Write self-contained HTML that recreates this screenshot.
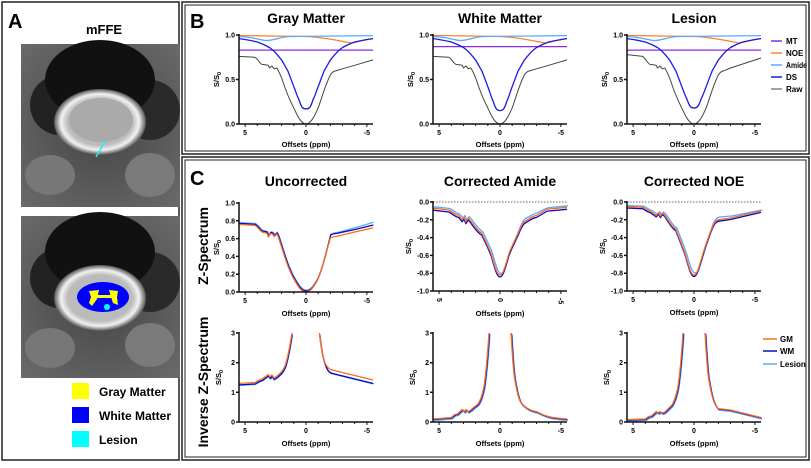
<!DOCTYPE html>
<html><head><meta charset="utf-8"><style>
body{margin:0;width:811px;height:463px;background:#fff;overflow:hidden}
</style></head><body>
<svg width="811" height="463" xmlns="http://www.w3.org/2000/svg" font-family="Liberation Sans, Arial, sans-serif">
<defs>
<radialGradient id="bg" cx="50%" cy="50%" r="70%"><stop offset="0" stop-color="#444"/><stop offset="1" stop-color="#6a6a6a"/></radialGradient>
<radialGradient id="ring" cx="50%" cy="50%" r="50%"><stop offset="0.7" stop-color="#bbb"/><stop offset="0.85" stop-color="#f2f2f2"/><stop offset="1" stop-color="#555"/></radialGradient>
</defs>
<rect x="2" y="2" width="177" height="458" fill="none" stroke="#222" stroke-width="1.5"/>
<rect x="182" y="2" width="627" height="152" fill="none" stroke="#222" stroke-width="1.5"/>
<rect x="185" y="5" width="621" height="146" fill="none" stroke="#222" stroke-width="1"/>
<rect x="182" y="157" width="627" height="303" fill="none" stroke="#222" stroke-width="1.5"/>
<rect x="185" y="160" width="621" height="297" fill="none" stroke="#222" stroke-width="1"/>
<text x="8" y="28" font-size="20" font-weight="bold">A</text>
<text x="190" y="28" font-size="20" font-weight="bold">B</text>
<text x="190" y="185" font-size="20" font-weight="bold">C</text>
<text x="104" y="34" font-size="13" font-weight="bold" text-anchor="middle">mFFE</text>
<g>
<rect x="21" y="44" width="159" height="163" fill="url(#bg)"/>
<ellipse cx="50" cy="175" rx="25" ry="20" fill="#777"/><ellipse cx="150" cy="175" rx="25" ry="22" fill="#7a7a7a"/>
<ellipse cx="60" cy="105" rx="30" ry="30" fill="#222"/><ellipse cx="150" cy="110" rx="30" ry="30" fill="#2a2a2a"/>
<ellipse cx="100" cy="80" rx="55" ry="40" fill="#111"/>
<ellipse cx="100" cy="122" rx="46" ry="33" fill="url(#ring)"/>
<ellipse cx="101" cy="120" rx="32" ry="22" fill="#aaa"/>
<line x1="96" y1="157" x2="106" y2="140" stroke="#2ee" stroke-width="1.5"/>
</g>
<g>
<rect x="21" y="216" width="159" height="162" fill="url(#bg)"/>
<ellipse cx="50" cy="348" rx="25" ry="20" fill="#777"/><ellipse cx="150" cy="345" rx="25" ry="22" fill="#7a7a7a"/>
<ellipse cx="60" cy="278" rx="30" ry="30" fill="#222"/><ellipse cx="150" cy="282" rx="30" ry="30" fill="#2a2a2a"/>
<ellipse cx="100" cy="252" rx="55" ry="40" fill="#111"/>
<ellipse cx="100" cy="298" rx="46" ry="33" fill="url(#ring)"/>
<ellipse cx="103" cy="297" rx="26" ry="15" fill="#00f"/>
<path d="M89,291 L99,290 L97,299 L92,306 L89,303 L91,297 Z M109,290 L118,291 L117,297 L118,305 L113,303 L111,297 Z M96,295 L112,295 L112,298 L96,298 Z" fill="#ff0"/>
<circle cx="107" cy="307" r="3" fill="#0ff"/>
</g>
<rect x="72" y="383" width="17" height="16" fill="#ff0"/><text x="99" y="396" font-size="12" font-weight="bold">Gray Matter</text>
<rect x="72" y="407" width="17" height="16" fill="#00f"/><text x="99" y="420" font-size="12" font-weight="bold">White Matter</text>
<rect x="72" y="431" width="17" height="16" fill="#0ff"/><text x="99" y="444" font-size="12" font-weight="bold">Lesion</text>
<text transform="translate(208,246) rotate(-90)" font-size="14" font-weight="bold" text-anchor="middle">Z-Spectrum</text>
<text transform="translate(208,382) rotate(-90)" font-size="14" font-weight="bold" text-anchor="middle">Inverse Z-Spectrum</text>

<g font-size="7" font-weight="bold" stroke-linejoin="round">
<!-- B1 -->
<g transform="translate(239,35)">
<text x="67" y="-12" font-size="14" text-anchor="middle">Gray Matter</text>
<line x1="0" y1="15.1" x2="134" y2="15.1" stroke="#8a2be2" stroke-width="1.3"/>
<path d="M0,0.5 L67,1.5 C85,2 100,6 112,8 C120,7 128,4 134,3.6" fill="none" stroke="#ff7f2a" stroke-width="1.3"/>
<path d="M0,1.5 C15,2 22,5.5 28,5.5 C34,5.5 42,2 50,1.5 L134,0.6" fill="none" stroke="#5aa9ff" stroke-width="1.3"/>
<path d="M0,3.6 C8,4.5 14,6 18.3,7 C24,9 27,10.5 30.5,12.5 C33,14.5 35,16 36.5,17.8 C39,20.5 41,23 42.6,25 C45,29 47,33 48.7,35.6 C51,41 53,47 54.8,51.6 C57,57 58,61 59.7,64 C61,68 62,71 63.3,72.5 C64.5,73.8 65.5,73.9 67,73.9 C68.5,73.9 69.5,73.8 70.7,72.5 C72,71 73,68 74.3,64 C76,61 77,57 79.2,51.6 C81,47 83,41 85.3,35.6 C87,33 89,29 91.4,25 C93,23 95,20.5 97.5,17.8 C99,16 101,14.5 103.5,12.5 C107,10.5 110,9 115.7,7 C120,6 126,4.5 134,3.6" fill="none" stroke="#1a1ae6" stroke-width="1.3"/>
<path d="M0,21.4 L15.8,22.3 C19,24 21,29 23.1,29.4 L29.2,30.3 L30.5,33 L32.9,31 L35.3,33.8 L37.8,33 C40,36 41,40 42.6,42.7 C45,50 48,60 54.8,73 C58,80 62,89 67,89 C72,89 76,80 79.2,73 C83,62 87,48 91.4,40 C93,37 95,36 97.4,35.6 L103.5,33.8 L115.7,30.3 L134,24.9" fill="none" stroke="#444" stroke-width="1"/>
<path d="M0,-1 V89 H134 M-3,0 H0 M-3,44.5 H0 M-3,89 H0" fill="none" stroke="#111" stroke-width="1.5"/>
<path d="M6.1,89v3M18.3,89v2M30.5,89v2M42.6,89v2M54.8,89v2M67,89v3M79.2,89v2M91.4,89v2M103.5,89v2M115.7,89v2M127.9,89v3" stroke="#111" stroke-width="1"/>
<text x="-4" y="2.5" text-anchor="end">1.0</text><text x="-4" y="47" text-anchor="end">0.5</text><text x="-4" y="91.5" text-anchor="end">0.0</text>
<text x="6.1" y="100" text-anchor="middle">5</text><text x="67" y="100" text-anchor="middle">0</text><text x="127.9" y="100" text-anchor="middle">-5</text>
<text x="67" y="112" text-anchor="middle" font-size="7.5">Offsets (ppm)</text>
<text transform="translate(-20,44.5) rotate(-90)" text-anchor="middle" font-size="7.5">S/S<tspan font-size="5.5" dy="2">0</tspan></text>
</g>
<!-- B2 -->
<g transform="translate(433,35)">
<text x="67" y="-12" font-size="14" text-anchor="middle">White Matter</text>
<line x1="0" y1="11.6" x2="134" y2="11.6" stroke="#8a2be2" stroke-width="1.3"/>
<path d="M0,0.5 L67,1.5 C85,2 100,6 112,8 C120,7 128,4 134,3.6" fill="none" stroke="#ff7f2a" stroke-width="1.3"/>
<path d="M0,1.5 C15,2 22,5.5 28,5.5 C34,5.5 42,2 50,1.5 L134,0.6" fill="none" stroke="#5aa9ff" stroke-width="1.3"/>
<path d="M0,3.6 C8,4.5 14,6 18.3,7 C24,9 27,10.5 30.5,12.5 C33,14.5 35,16 36.5,17.8 C39,20.5 41,23 42.6,25 C45,29 47,33 48.7,35.6 C51,41 53,47 54.8,51.6 C57,57 58,62 59.7,65 C61,69 62,72 63.3,73.8 C64.5,75.3 65.5,75.6 67,75.6 C68.5,75.6 69.5,75.3 70.7,73.8 C72,72 73,69 74.3,65 C76,62 77,57 79.2,51.6 C81,47 83,41 85.3,35.6 C87,33 89,29 91.4,25 C93,23 95,20.5 97.5,17.8 C99,16 101,14.5 103.5,12.5 C107,10.5 110,9 115.7,7 C120,6 126,4.5 134,3.6" fill="none" stroke="#1a1ae6" stroke-width="1.3"/>
<path d="M0,21.4 L15.8,22.3 C19,24 21,29 23.1,29.4 L29.2,30.3 L30.5,33 L32.9,31 L35.3,33.8 L37.8,33 C40,36 41,40 42.6,42.7 C45,50 48,60 54.8,73 C58,80 62,89 67,89 C72,89 76,80 79.2,73 C83,62 87,48 91.4,40 C93,37 95,36 97.4,35.6 L103.5,33.8 L115.7,30.3 L134,24.9" fill="none" stroke="#444" stroke-width="1"/>
<path d="M0,-1 V89 H134 M-3,0 H0 M-3,44.5 H0 M-3,89 H0" fill="none" stroke="#111" stroke-width="1.5"/>
<path d="M6.1,89v3M18.3,89v2M30.5,89v2M42.6,89v2M54.8,89v2M67,89v3M79.2,89v2M91.4,89v2M103.5,89v2M115.7,89v2M127.9,89v3" stroke="#111" stroke-width="1"/>
<text x="-4" y="2.5" text-anchor="end">1.0</text><text x="-4" y="47" text-anchor="end">0.5</text><text x="-4" y="91.5" text-anchor="end">0.0</text>
<text x="6.1" y="100" text-anchor="middle">5</text><text x="67" y="100" text-anchor="middle">0</text><text x="127.9" y="100" text-anchor="middle">-5</text>
<text x="67" y="112" text-anchor="middle" font-size="7.5">Offsets (ppm)</text>
<text transform="translate(-20,44.5) rotate(-90)" text-anchor="middle" font-size="7.5">S/S<tspan font-size="5.5" dy="2">0</tspan></text>
</g>
<!-- B3 -->
<g transform="translate(627,35)">
<text x="67" y="-12" font-size="14" text-anchor="middle">Lesion</text>
<line x1="0" y1="15.1" x2="134" y2="15.1" stroke="#8a2be2" stroke-width="1.3"/>
<path d="M0,0.5 L67,1.5 C85,2 100,6 112,8 C120,7 128,4 134,3.6" fill="none" stroke="#ff7f2a" stroke-width="1.3"/>
<path d="M0,1.5 C15,2 22,5.5 28,5.5 C34,5.5 42,2 50,1.5 L134,0.6" fill="none" stroke="#5aa9ff" stroke-width="1.3"/>
<path d="M0,3.6 C8,4.5 14,6 18.3,7 C24,9 27,10.5 30.5,12.5 C33,14.5 35,16 36.5,17.8 C39,20.5 41,23 42.6,25 C45,29 47,33 48.7,35.6 C51,41 53,47 54.8,51.6 C57,57 58,60.5 59.7,63.5 C61,67 62,70 63.3,71.5 C64.5,72.8 65.5,73 67,73 C68.5,73 69.5,72.8 70.7,71.5 C72,70 73,67 74.3,63.5 C76,60.5 77,57 79.2,51.6 C81,47 83,41 85.3,35.6 C87,33 89,29 91.4,25 C93,23 95,20.5 97.5,17.8 C99,16 101,14.5 103.5,12.5 C107,10.5 110,9 115.7,7 C120,6 126,4.5 134,3.6" fill="none" stroke="#1a1ae6" stroke-width="1.3"/>
<path d="M0,19.6 L15.8,21.4 C19,24 21,29 23.1,29.4 L29.2,30.3 L30.5,33 L32.9,31 L35.3,33.8 L37.8,33 C40,36 41,40 42.6,42.7 C45,50 48,60 54.8,73 C58,80 62,89 67,89 C72,89 76,80 79.2,73 C83,62 87,48 91.4,40 C93,37 95,36 97.4,35.6 L103.5,33 L115.7,29 L134,23" fill="none" stroke="#444" stroke-width="1"/>
<path d="M0,-1 V89 H134 M-3,0 H0 M-3,44.5 H0 M-3,89 H0" fill="none" stroke="#111" stroke-width="1.5"/>
<path d="M6.1,89v3M18.3,89v2M30.5,89v2M42.6,89v2M54.8,89v2M67,89v3M79.2,89v2M91.4,89v2M103.5,89v2M115.7,89v2M127.9,89v3" stroke="#111" stroke-width="1"/>
<text x="-4" y="2.5" text-anchor="end">1.0</text><text x="-4" y="47" text-anchor="end">0.5</text><text x="-4" y="91.5" text-anchor="end">0.0</text>
<text x="6.1" y="100" text-anchor="middle">5</text><text x="67" y="100" text-anchor="middle">0</text><text x="127.9" y="100" text-anchor="middle">-5</text>
<text x="67" y="112" text-anchor="middle" font-size="7.5">Offsets (ppm)</text>
<text transform="translate(-20,44.5) rotate(-90)" text-anchor="middle" font-size="7.5">S/S<tspan font-size="5.5" dy="2">0</tspan></text>
</g>

<!-- C Z -->
<g transform="translate(239,203)">
<text x="67" y="-17" font-size="14" text-anchor="middle">Uncorrected</text>
<g fill="none" stroke-width="1.3">
<path transform="translate(0.5,-1.8)" d="M0,21.4 L15.8,22.3 C19,24 21,28 23.1,29 L28,30.3 L29.5,34 L31.5,30.5 L33.5,31 L35.3,33.5 L37.8,31 C40,34 41,40 42.6,44 C46,55 50,68 56,78 C60,85 63,89 67,89 C71,89 74,85 78,78 C83,68 87,50 91.4,33 C93,32 95,31.6 97.4,31.4 L115.7,26.5 L134,21" stroke="#5aa9ff"/>
<path transform="translate(0.3,-1)" d="M0,21.4 L15.8,22.3 C19,24 21,28 23.1,29 L28,30.3 L29.5,34 L31.5,30.5 L33.5,31 L35.3,33.5 L37.8,31 C40,34 41,40 42.6,44 C46,55 50,68 56,78 C60,85 63,89 67,89 C71,89 74,85 78,78 C83,68 87,50 91.4,33 C93,32 95,31.6 97.4,31.4 L115.7,27.5 L134,23" stroke="#0a0ab8"/>
<path d="M0,21.4 L15.8,22.3 C19,24 21,28 23.1,29 L28,30.3 L29.5,34 L31.5,30.5 L33.5,31 L35.3,33.5 L37.8,31 C40,34 41,40 42.6,44 C46,55 50,68 56,78 C60,85 63,89 67,89 C71,89 74,85 78,78 C83,68 87,50 91.4,35 C93,34 95,33.6 97.4,33.4 L115.7,29 L134,24.9" stroke="#ff6a1a"/>
</g>
<path d="M0,-1 V89 H134 M-3,0 H0 M-3,17.8 H0 M-3,35.6 H0 M-3,53.4 H0 M-3,71.2 H0 M-3,89 H0" fill="none" stroke="#111" stroke-width="1.5"/>
<path d="M6.1,89v3M18.3,89v2M30.5,89v2M42.6,89v2M54.8,89v2M67,89v3M79.2,89v2M91.4,89v2M103.5,89v2M115.7,89v2M127.9,89v3" stroke="#111" stroke-width="1"/>
<text x="-4" y="2.5" text-anchor="end">1.0</text><text x="-4" y="20.3" text-anchor="end">0.8</text><text x="-4" y="38.1" text-anchor="end">0.6</text><text x="-4" y="55.9" text-anchor="end">0.4</text><text x="-4" y="73.7" text-anchor="end">0.2</text><text x="-4" y="91.5" text-anchor="end">0.0</text>
<text x="6.1" y="100" text-anchor="middle">5</text><text x="67" y="100" text-anchor="middle">0</text><text x="127.9" y="100" text-anchor="middle">-5</text>
<text x="67" y="113" text-anchor="middle" font-size="7.5">Offsets (ppm)</text>
<text transform="translate(-20,44.5) rotate(-90)" text-anchor="middle" font-size="7.5">S/S<tspan font-size="5.5" dy="2">0</tspan></text>
</g>

<g transform="translate(433,202)">
<text x="67" y="-16" font-size="14" text-anchor="middle">Corrected Amide</text>
<line x1="0" y1="0" x2="134" y2="0" stroke="#333" stroke-width="0.8" stroke-dasharray="1.5,1.5"/>
<g fill="none" stroke-width="1.3">
<path transform="translate(1,-1.5)" d="M0,6.2 L15.8,8 C20,10 22,13 25.6,13.4 L29.2,17.8 L31,15 L32.9,19.6 L35.3,16 L37.8,19 C42,25 46,30 48.7,31 C53,40 57,48 58.5,53 C62,65 64,73 67,73 C70,73 72,65 75.5,53 C77,48 81,40 85.3,29 C88,22 90,19 91.4,18 C97,15 100,13 103.5,12.4 C110,9 113,7 115.7,7 L134,5.3" stroke="#5aa9ff"/>
<path transform="translate(0,2)" d="M0,6.2 L15.8,8 C20,10 22,13 25.6,13.4 L29.2,17.8 L31,15 L32.9,19.6 L35.3,16 L37.8,19 C42,25 46,30 48.7,31 C53,40 57,48 58.5,53 C62,65 64,73 67,73 C70,73 72,65 75.5,53 C77,48 81,40 85.3,31 C88,24 90,21 91.4,19.6 C97,16 100,14 103.5,13.4 C110,10 113,7 115.7,7 L134,5.3" stroke="#0a0ab8"/>
<path d="M0,6.2 L15.8,8 C20,10 22,13 25.6,13.4 L29.2,17.8 L31,15 L32.9,19.6 L35.3,16 L37.8,19 C42,25 46,30 48.7,31 C53,40 57,48 58.5,53 C62,65 64,73 67,73 C70,73 72,65 75.5,53 C77,48 81,40 85.3,31 C88,24 90,21 91.4,19.6 C97,16 100,14 103.5,13.4 C110,10 113,7 115.7,7 L134,5.3" stroke="#ff6a1a"/>
</g>
<path d="M0,-1 V89 H134 M-3,0 H0 M-3,17.8 H0 M-3,35.6 H0 M-3,53.4 H0 M-3,71.2 H0 M-3,89 H0" fill="none" stroke="#111" stroke-width="1.5"/>
<path d="M6.1,89v3M18.3,89v2M30.5,89v2M42.6,89v2M54.8,89v2M67,89v3M79.2,89v2M91.4,89v2M103.5,89v2M115.7,89v2M127.9,89v3" stroke="#111" stroke-width="1"/>
<text x="-4" y="2.5" text-anchor="end">0.0</text><text x="-4" y="20.3" text-anchor="end">-0.2</text><text x="-4" y="38.1" text-anchor="end">-0.4</text><text x="-4" y="55.9" text-anchor="end">-0.6</text><text x="-4" y="73.7" text-anchor="end">-0.8</text><text x="-4" y="91.5" text-anchor="end">-1.0</text>
<text transform="translate(4,96) rotate(90)" text-anchor="start">5</text><text transform="translate(65,96) rotate(90)" text-anchor="start">0</text><text transform="translate(125.5,96) rotate(90)" text-anchor="start">-5</text>
<text x="67" y="114" text-anchor="middle" font-size="7.5">Offsets (ppm)</text>
<text transform="translate(-22,44.5) rotate(-90)" text-anchor="middle" font-size="7.5">S/S<tspan font-size="5.5" dy="2">0</tspan></text>
</g>

<g transform="translate(627,202)">
<text x="67" y="-16" font-size="14" text-anchor="middle">Corrected NOE</text>
<line x1="0" y1="0" x2="134" y2="0" stroke="#333" stroke-width="0.8" stroke-dasharray="1.5,1.5"/>
<g fill="none" stroke-width="1.3">
<path transform="translate(1.2,-1)" d="M0,4.5 L15.8,5.3 C19,7 21,9 23.1,9 L29.2,13.4 L31.5,10.7 L33.5,14.2 L35.3,11 L37.8,13 C42,20 46,26 48.7,27 C53,38 57,48 58.5,53 C62,65 64,72 67,72 C70,72 72,65 75.5,53 C77,48 81,34 85.3,22 C88,17 90,16 91.4,16 L103.5,15 L134,8.9" stroke="#5aa9ff"/>
<path transform="translate(0,1.5)" d="M0,4.5 L15.8,5.3 C19,7 21,9 23.1,9 L29.2,13.4 L31.5,10.7 L33.5,14.2 L35.3,11 L37.8,13 C42,20 46,26 48.7,27 C53,38 57,48 58.5,53 C62,65 64,73 67,73 C70,73 72,65 75.5,53 C77,48 81,36 85.3,25 C88,19 90,18 91.4,17.8 L103.5,16 L134,8.9" stroke="#0a0ab8"/>
<path d="M0,4.5 L15.8,5.3 C19,7 21,9 23.1,9 L29.2,13.4 L31.5,10.7 L33.5,14.2 L35.3,11 L37.8,13 C42,20 46,26 48.7,27 C53,38 57,48 58.5,53 C62,65 64,73 67,73 C70,73 72,65 75.5,53 C77,48 81,36 85.3,25 C88,19 90,18 91.4,17.8 L103.5,16 L134,8.9" stroke="#ff6a1a"/>
</g>
<path d="M0,-1 V89 H134 M-3,0 H0 M-3,17.8 H0 M-3,35.6 H0 M-3,53.4 H0 M-3,71.2 H0 M-3,89 H0" fill="none" stroke="#111" stroke-width="1.5"/>
<path d="M6.1,89v3M18.3,89v2M30.5,89v2M42.6,89v2M54.8,89v2M67,89v3M79.2,89v2M91.4,89v2M103.5,89v2M115.7,89v2M127.9,89v3" stroke="#111" stroke-width="1"/>
<text x="-4" y="2.5" text-anchor="end">0.0</text><text x="-4" y="20.3" text-anchor="end">-0.2</text><text x="-4" y="38.1" text-anchor="end">-0.4</text><text x="-4" y="55.9" text-anchor="end">-0.6</text><text x="-4" y="73.7" text-anchor="end">-0.8</text><text x="-4" y="91.5" text-anchor="end">-1.0</text>
<text x="6.1" y="100" text-anchor="middle">5</text><text x="67" y="100" text-anchor="middle">0</text><text x="127.9" y="100" text-anchor="middle">-5</text>
<text x="67" y="113" text-anchor="middle" font-size="7.5">Offsets (ppm)</text>
<text transform="translate(-22,44.5) rotate(-90)" text-anchor="middle" font-size="7.5">S/S<tspan font-size="5.5" dy="2">0</tspan></text>
</g>

<!-- C inverse -->
<g transform="translate(239,333)">
<g fill="none" stroke-width="1.3">
<path transform="translate(0.5,2)" d="M0,50.4 L15.8,49.5 C20,47 22,46 23,46 L29.2,41.5 L31,44 L32.9,42 L35,45 C40,42 44,38 46,33 C49,25 51,12 53,0 M80.4,0 C82,14 84,25 86,30 C88,36 90,38 92,38.6 L103.5,41.5 L134,49" stroke="#5aa9ff"/>
<path transform="translate(0.3,1.5)" d="M0,50.4 L15.8,49.5 C20,47 22,46 23,46 L29.2,41.5 L31,44 L32.9,42 L35,45 C40,42 44,38 46,33 C49,25 51,12 53,0 M80.4,0 C82,14 84,25 86,30 C88,36 90,38 92,38.6 L103.5,41.5 L134,49" stroke="#0a0ab8"/>
<path d="M0,50.4 L15.8,49.5 C20,47 22,46 23,46 L29.2,41.5 L31,44 L32.9,42 L35,45 C40,42 44,38 46,33 C49,25 51,12 53,0 M80.4,0 C82,14 84,25 86,30 C88,34 90,36 92,36.6 L103.5,39.5 L134,47" stroke="#ff6a1a"/>
</g>
<path d="M0,-1 V89 H134 M-3,0 H0 M-3,29.7 H0 M-3,59.3 H0 M-3,89 H0" fill="none" stroke="#111" stroke-width="1.5"/>
<path d="M6.1,89v3M18.3,89v2M30.5,89v2M42.6,89v2M54.8,89v2M67,89v3M79.2,89v2M91.4,89v2M103.5,89v2M115.7,89v2M127.9,89v3" stroke="#111" stroke-width="1"/>
<text x="-4" y="2.5" text-anchor="end">3</text><text x="-4" y="32.2" text-anchor="end">2</text><text x="-4" y="61.8" text-anchor="end">1</text><text x="-4" y="91.5" text-anchor="end">0</text>
<text x="6.1" y="100" text-anchor="middle">5</text><text x="67" y="100" text-anchor="middle">0</text><text x="127.9" y="100" text-anchor="middle">-5</text>
<text x="67" y="113" text-anchor="middle" font-size="7.5">Offsets (ppm)</text>
<text transform="translate(-18,44.5) rotate(-90)" text-anchor="middle" font-size="7.5">S/S<tspan font-size="5.5" dy="2">0</tspan></text>
</g>

<g transform="translate(433,333)">
<g fill="none" stroke-width="1.3">
<path transform="translate(1,1.5)" d="M0,86 L18.3,84.5 C21,82 22,81 24.4,81 L29.2,76.5 L31.5,78.6 L32.9,76.5 L35.3,78.6 L37.8,77 C41,74 44,72 45,71 C49,65 50,58 51,53.4 C53,40 55,15 56,0 M78,0 C79,15 80,35 81.5,44.5 C84,60 86,68 89,71 C95,77 100,78 103.5,78.6 C110,82 115,84 124,85 L134,86" stroke="#5aa9ff"/>
<path transform="translate(0.5,0.5)" d="M0,86 L18.3,84.5 C21,82 22,81 24.4,81 L29.2,76.5 L31.5,78.6 L32.9,76.5 L35.3,78.6 L37.8,77 C41,74 44,72 45,71 C49,65 50,58 51,53.4 C53,40 55,15 56,0 M78,0 C79,15 80,35 81.5,44.5 C84,60 86,68 89,71 C95,77 100,78 103.5,78.6 C110,82 115,84 124,85 L134,86" stroke="#0a0ab8"/>
<path d="M0,86 L18.3,84.5 C21,82 22,81 24.4,81 L29.2,76.5 L31.5,78.6 L32.9,76.5 L35.3,78.6 L37.8,77 C41,74 44,72 45,71 C49,65 50,58 51,53.4 C53,40 55,15 56,0 M78,0 C79,15 80,35 81.5,44.5 C84,60 86,68 89,71 C95,77 100,78 103.5,78.6 C110,82 115,84 124,85 L134,86" stroke="#ff6a1a"/>
</g>
<path d="M0,-1 V89 H134 M-3,0 H0 M-3,29.7 H0 M-3,59.3 H0 M-3,89 H0" fill="none" stroke="#111" stroke-width="1.5"/>
<path d="M6.1,89v3M18.3,89v2M30.5,89v2M42.6,89v2M54.8,89v2M67,89v3M79.2,89v2M91.4,89v2M103.5,89v2M115.7,89v2M127.9,89v3" stroke="#111" stroke-width="1"/>
<text x="-4" y="2.5" text-anchor="end">3</text><text x="-4" y="32.2" text-anchor="end">2</text><text x="-4" y="61.8" text-anchor="end">1</text><text x="-4" y="91.5" text-anchor="end">0</text>
<text x="6.1" y="100" text-anchor="middle">5</text><text x="67" y="100" text-anchor="middle">0</text><text x="127.9" y="100" text-anchor="middle">-5</text>
<text x="67" y="113" text-anchor="middle" font-size="7.5">Offsets (ppm)</text>
<text transform="translate(-18,44.5) rotate(-90)" text-anchor="middle" font-size="7.5">S/S<tspan font-size="5.5" dy="2">0</tspan></text>
</g>

<g transform="translate(627,333)">
<g fill="none" stroke-width="1.3">
<path transform="translate(1,1.5)" d="M0,86.6 L18.3,86 C21,84 22,83 24.4,83 L29.2,78.6 L31.5,80 L32.9,78.6 L35.3,80 L37.8,79 C41,76 44,73 45,72 C49,65 50,58 51,53.4 C53,40 55,15 56,0 M78,0 C79,15 80,35 81.5,44.5 C84,60 86,70 91,75.6 L103.5,77 L134,84.5" stroke="#5aa9ff"/>
<path transform="translate(0.5,0.5)" d="M0,86.6 L18.3,86 C21,84 22,83 24.4,83 L29.2,78.6 L31.5,80 L32.9,78.6 L35.3,80 L37.8,79 C41,76 44,73 45,72 C49,65 50,58 51,53.4 C53,40 55,15 56,0 M78,0 C79,15 80,35 81.5,44.5 C84,60 86,70 91,75.6 L103.5,77 L134,84.5" stroke="#0a0ab8"/>
<path d="M0,86.6 L18.3,86 C21,84 22,83 24.4,83 L29.2,78.6 L31.5,80 L32.9,78.6 L35.3,80 L37.8,79 C41,76 44,73 45,72 C49,65 50,58 51,53.4 C53,40 55,15 56,0 M78,0 C79,15 80,35 81.5,44.5 C84,60 86,70 91,75.6 L103.5,77 L134,84.5" stroke="#ff6a1a"/>
</g>
<path d="M0,-1 V89 H134 M-3,0 H0 M-3,29.7 H0 M-3,59.3 H0 M-3,89 H0" fill="none" stroke="#111" stroke-width="1.5"/>
<path d="M6.1,89v3M18.3,89v2M30.5,89v2M42.6,89v2M54.8,89v2M67,89v3M79.2,89v2M91.4,89v2M103.5,89v2M115.7,89v2M127.9,89v3" stroke="#111" stroke-width="1"/>
<text x="-4" y="2.5" text-anchor="end">3</text><text x="-4" y="32.2" text-anchor="end">2</text><text x="-4" y="61.8" text-anchor="end">1</text><text x="-4" y="91.5" text-anchor="end">0</text>
<text x="6.1" y="100" text-anchor="middle">5</text><text x="67" y="100" text-anchor="middle">0</text><text x="127.9" y="100" text-anchor="middle">-5</text>
<text x="67" y="113" text-anchor="middle" font-size="7.5">Offsets (ppm)</text>
<text transform="translate(-18,44.5) rotate(-90)" text-anchor="middle" font-size="7.5">S/S<tspan font-size="5.5" dy="2">0</tspan></text>
</g>
</g>

<g font-size="8" font-weight="bold">
<line x1="771" y1="41" x2="782" y2="41" stroke="#8a2be2" stroke-width="1.5"/><text x="786" y="44">MT</text>
<line x1="771" y1="53" x2="782" y2="53" stroke="#ff7f2a" stroke-width="1.5"/><text x="786" y="56">NOE</text>
<line x1="771" y1="65" x2="782" y2="65" stroke="#5aa9ff" stroke-width="1.5"/><text x="786" y="68" textLength="21" lengthAdjust="spacingAndGlyphs">Amide</text>
<line x1="771" y1="77" x2="782" y2="77" stroke="#1a1ae6" stroke-width="1.5"/><text x="786" y="80">DS</text>
<line x1="771" y1="89" x2="782" y2="89" stroke="#444" stroke-width="1"/><text x="786" y="92">Raw</text>
<line x1="763" y1="339" x2="777" y2="339" stroke="#ff6a1a" stroke-width="1.5"/><text x="780" y="342">GM</text>
<line x1="763" y1="351" x2="777" y2="351" stroke="#0a0ab8" stroke-width="1.5"/><text x="780" y="354">WM</text>
<line x1="763" y1="364" x2="777" y2="364" stroke="#5aa9ff" stroke-width="1.5"/><text x="780" y="367">Lesion</text>
</g>
</svg>
</body></html>
